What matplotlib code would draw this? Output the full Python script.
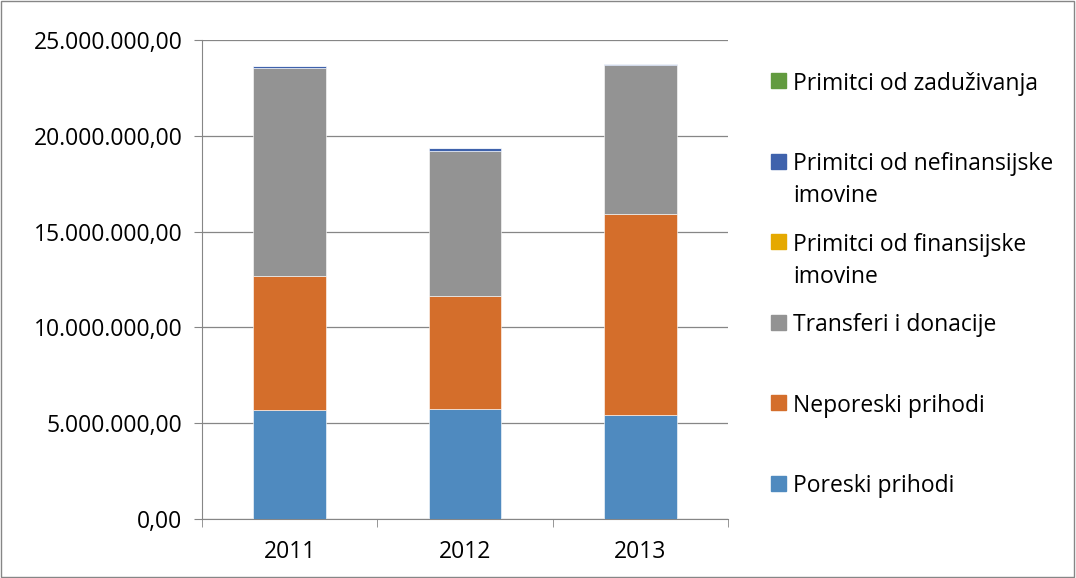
import numpy as np
import matplotlib
matplotlib.use("Agg")
import matplotlib.pyplot as plt
from matplotlib.ticker import FuncFormatter, FixedLocator
from matplotlib.patches import Rectangle

plt.rcParams['font.family'] = ['Open Sans', 'DejaVu Sans']

godine = ["2011", "2012", "2013"]
serije = ["Poreski prihodi", "Neporeski prihodi", "Transferi i donacije",
          "Primitci od finansijske\nimovine", "Primitci od nefinansijske\nimovine",
          "Primitci od zaduživanja"]
poreski = [5690000, 5740000, 5430000]
neporeski = [6990000, 5900000, 10490000]
transferi = [10860000, 7560000, 7780000]
finansijske = [0, 30000, 0]
nefinansijske = [100000, 120000, 50000]
zaduzivanje = [0, 0, 0]
boje = ["#4F8ABF", "#D46E2B", "#939393", "#E5A900", "#3F62AC", "#629B3F"]

podaci = [poreski, neporeski, transferi, finansijske, nefinansijske, zaduzivanje]

fig = plt.figure(figsize=(10.76, 5.78), dpi=100)
ax = fig.add_axes([202/1076, 59/578, 526/1076, 479/578])

x = np.arange(len(godine))
dno = np.zeros(len(godine))
for vals, boja, ime in zip(podaci, boje, serije):
    ax.bar(x, vals, 0.415, bottom=dno, color=boja, label=ime, zorder=3,
           edgecolor='white', linewidth=0.4)
    dno += np.array(vals)

ax.set_xlim(-0.5, 2.5)
ax.set_ylim(0, 25000000)
ax.set_yticks(np.arange(0, 25000001, 5000000))

def fmt(v, pos):
    s = "{:,.2f}".format(v)
    return s.replace(",", "X").replace(".", ",").replace("X", ".")

ax.yaxis.set_major_formatter(FuncFormatter(fmt))
ax.set_xticks(x)
ax.set_xticklabels(godine)
ax.xaxis.set_minor_locator(FixedLocator([-0.5, 0.5, 1.5, 2.5]))
ax.tick_params(axis='x', which='major', length=0, pad=15, labelsize=16.5)
ax.tick_params(axis='x', which='minor', length=6, color="#868686", direction='out')
ax.tick_params(axis='y', length=6, color="#868686", labelsize=16.5, pad=8)
ax.grid(axis='y', color="#868686", linewidth=0.9, zorder=0)
for s in ['top', 'right']:
    ax.spines[s].set_visible(False)
for s in ['left', 'bottom']:
    ax.spines[s].set_color("#868686")

# legenda
for i in range(len(serije)):
    j = len(serije) - 1 - i
    yp = 80.5 + i * 80.6
    fig.patches.append(Rectangle((771/1076, 1 - (yp + 7.5)/578), 15/1076, 15/578,
                                 transform=fig.transFigure, color=boje[j]))
    fig.text(793/1076, 1 - (yp - 9)/578, serije[j], fontsize=16.5, va='top',
             ha='left', linespacing=1.45)

fig.patches.append(Rectangle((0.0005, 0.001), 0.998, 0.997, transform=fig.transFigure,
                             fill=False, edgecolor="#868686", linewidth=1))
fig.savefig("out.png", dpi=100)
